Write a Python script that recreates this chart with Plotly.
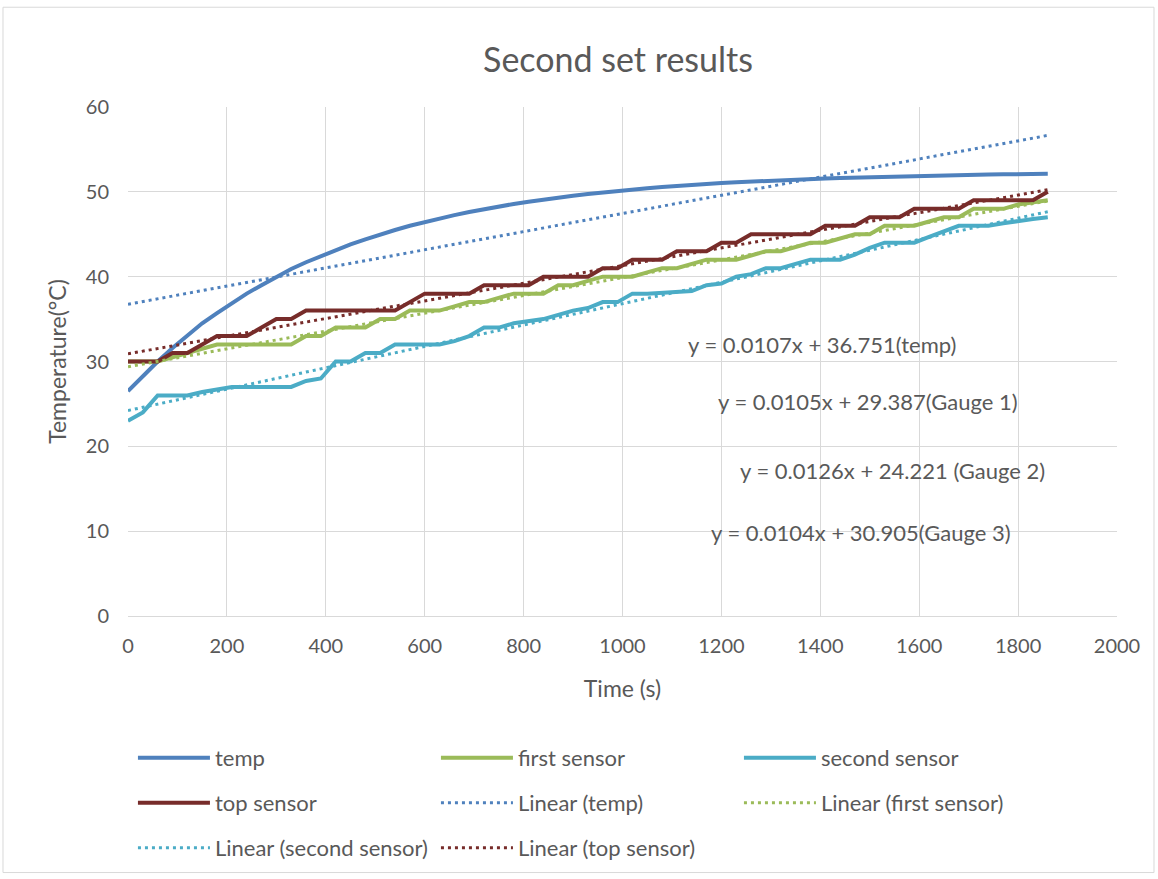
import plotly.graph_objects as go

# ---- data ----
time_s = [i * 30 for i in range(63)]

temp = [26.5, 28.3, 30.0, 31.6, 33.1, 34.5, 35.7, 36.9, 38.0, 39.0,
        40.0, 40.9, 41.7, 42.4, 43.15, 43.8, 44.4, 44.98, 45.5, 46.0,
        46.45, 46.87, 47.26, 47.63, 47.97, 48.28, 48.57, 48.84, 49.1, 49.33,
        49.55, 49.75, 49.94, 50.11, 50.27, 50.42, 50.56, 50.7, 50.82, 50.93,
        51.03, 51.13, 51.22, 51.3, 51.38, 51.45, 51.52, 51.58, 51.64, 51.69,
        51.74, 51.79, 51.83, 51.87, 51.91, 51.95, 51.98, 52.01, 52.04, 52.06,
        52.09, 52.11, 52.13]

first_sensor = [30, 30, 30, 30.5, 31, 31.5, 32, 32, 32, 32,
                32, 32, 33, 33, 34, 34, 34, 35, 35, 36,
                36, 36, 36.5, 37, 37, 37.5, 38, 38, 38, 39,
                39, 39.5, 40, 40, 40, 40.5, 41, 41, 41.5, 42,
                42, 42, 42.5, 43, 43, 43.5, 44, 44, 44.5, 45,
                45, 46, 46, 46, 46.5, 47, 47, 48, 48, 48,
                48.5, 48.7, 49]

second_sensor = [23, 24, 26, 26, 26, 26.4, 26.7, 27, 27, 27,
                 27, 27, 27.7, 28, 30, 30, 31, 31, 32, 32,
                 32, 32, 32.4, 33, 34, 34, 34.5, 34.7, 35, 35.5,
                 36, 36.3, 37, 37, 38, 38, 38.1, 38.2, 38.3, 39,
                 39.2, 40, 40.3, 41, 41, 41.5, 42, 42, 42, 42.6,
                 43.4, 44, 44, 44, 44.7, 45.4, 46, 46, 46, 46.3,
                 46.6, 46.8, 47]

top_sensor = [30, 30, 30, 31, 31, 32, 33, 33, 33, 34,
              35, 35, 36, 36, 36, 36, 36, 36, 36, 37,
              38, 38, 38, 38, 39, 39, 39, 39, 40, 40,
              40, 40, 41, 41, 42, 42, 42, 43, 43, 43,
              44, 44, 45, 45, 45, 45, 45, 46, 46, 46,
              47, 47, 47, 48, 48, 48, 48, 49, 49, 49,
              49, 49, 50]

# trendline coefficients as printed on the chart
trend_slope = {"temp": 0.0107, "first": 0.0105, "second": 0.0126, "top": 0.0104}
trend_icpt = {"temp": 36.751, "first": 29.387, "second": 24.221, "top": 30.905}
trend_x = [0, 1860]

eq_labels = ["y = 0.0107x + 36.751(temp)",
             "y = 0.0105x + 29.387(Gauge 1)",
             "y = 0.0126x + 24.221 (Gauge 2)",
             "y = 0.0104x + 30.905(Gauge 3)"]
eq_x = [1128, 1189, 1233, 1175]
eq_y = [32.0, 25.3, 17.2, 9.9]

# ---- styles ----
C_TEMP = "#4F81BD"
C_FIRST = "#9BBB59"
C_SECOND = "#4BACC6"
C_TOP = "#772C2A"
TXT = "#595959"
FONT = "Lato, Open Sans, sans-serif"
DOT = "3px,4px"

fig = go.Figure()

def line(x, y, name, color, legend, dash=None, width=4):
    ld = dict(color=color, width=width)
    if dash:
        ld["dash"] = dash
    fig.add_trace(go.Scatter(x=x, y=y, name=name, mode="lines", line=ld, legend=legend))

line(time_s, temp, "temp", C_TEMP, "legend")
line(time_s, first_sensor, "first sensor", C_FIRST, "legend")
line(time_s, second_sensor, "second sensor", C_SECOND, "legend")
line(time_s, top_sensor, "top sensor", C_TOP, "legend2")

def trend(key):
    return [trend_icpt[key] + trend_slope[key] * x for x in trend_x]

line(trend_x, trend("temp"), "Linear (temp)", C_TEMP, "legend2", DOT, 3)
line(trend_x, trend("first"), "Linear (first sensor)", C_FIRST, "legend2", DOT, 3)
line(trend_x, trend("second"), "Linear (second sensor)", C_SECOND, "legend3", DOT, 3)
line(trend_x, trend("top"), "Linear (top sensor)", C_TOP, "legend3", DOT, 3)

for t, x, y in zip(eq_labels, eq_x, eq_y):
    fig.add_annotation(x=x, y=y, text=t, showarrow=False, xanchor="left",
                       yanchor="middle", font=dict(size=22, color=TXT, family=FONT))

# outer chart border
fig.add_shape(type="rect", xref="paper", yref="paper",
              x0=-0.1264, x1=1.0374, y0=-0.504, y1=1.196,
              line=dict(color="#D9D9D9", width=1), layer="below")

leg_common = dict(orientation="h", entrywidth=216, entrywidthmode="pixels",
                  itemwidth=72, font=dict(size=22, color=TXT, family=FONT),
                  xanchor="left", yanchor="middle", x=0.005,
                  bgcolor="rgba(0,0,0,0)", traceorder="normal")

fig.update_layout(
    width=1158, height=879,
    margin=dict(l=128, r=41, t=107, b=262),
    paper_bgcolor="white", plot_bgcolor="white",
    font=dict(family=FONT, color=TXT),
    title=dict(text="Second set results", x=0.5337, xanchor="center",
               y=0.932, yanchor="middle", font=dict(size=34, color=TXT, family=FONT)),
    legend=dict(y=-0.2765, **leg_common),
    legend2=dict(y=-0.3647, **leg_common),
    legend3=dict(y=-0.453, **leg_common),
    xaxis=dict(range=[0, 2000], dtick=200, tick0=0, showgrid=True,
               gridcolor="#D9D9D9", gridwidth=1, zeroline=False,
               showline=True, linecolor="#D9D9D9", linewidth=1,
               tickfont=dict(size=20, color=TXT, family=FONT),
               ticklabelstandoff=12,
               title=dict(text="Time (s)", font=dict(size=23, color=TXT, family=FONT), standoff=24)),
    yaxis=dict(range=[0, 60], dtick=10, tick0=0, showgrid=True,
               gridcolor="#D9D9D9", gridwidth=1, zeroline=False,
               showline=False,
               tickfont=dict(size=20, color=TXT, family=FONT),
               ticklabelstandoff=18,
               title=dict(text="Temperature(°C)", font=dict(size=23, color=TXT, family=FONT), standoff=12)),
)

fig.write_html("out.html")
